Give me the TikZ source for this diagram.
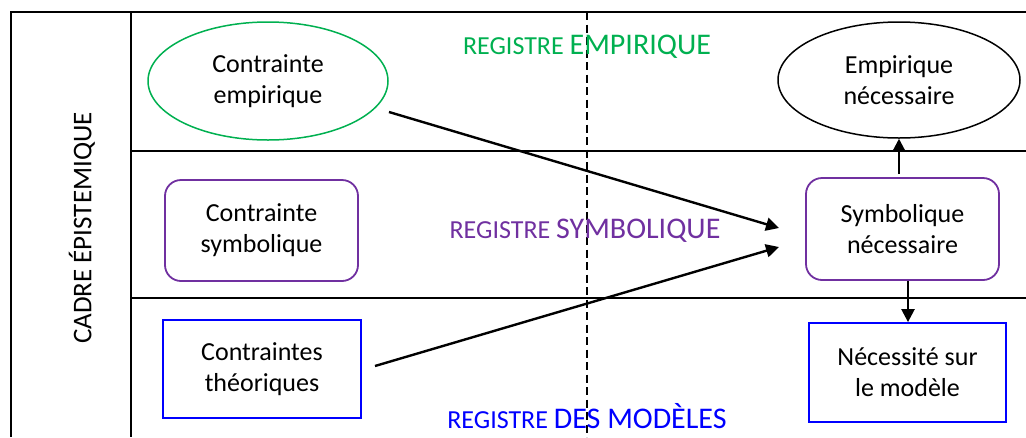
\documentclass[tikz,border=0pt]{standalone}
\usepackage{fontspec}
\setmainfont{Carlito}
\usetikzlibrary{arrows.meta,shapes.geometric}
\definecolor{offgreen}{RGB}{0,176,80}
\definecolor{offpurple}{RGB}{112,48,160}
\definecolor{offblue}{RGB}{0,0,255}
\tikzset{
  frameline/.style={line width=1.6pt, black},
  txt/.style={align=center, font=\fontsize{26}{31}\selectfont, inner sep=0pt},
  ell/.style={ellipse, draw, line width=1.5pt, txt},
  rbox/.style={rectangle, rounded corners=16pt, draw=offpurple, line width=1.8pt, txt},
  bbox/.style={rectangle, draw=offblue, line width=1.8pt, txt},
  conn/.style={line width=2.4pt, -{Triangle[length=13pt,width=13pt]}},
  reglab/.style={inner sep=0pt, anchor=base},
}
\newcommand{\regsmall}{\fontsize{26}{30}\selectfont}
\newcommand{\regbig}{\fontsize{30}{34}\selectfont}
\begin{document}
\begin{tikzpicture}[x=1pt,y=-1pt]
\useasboundingbox (0,0) rectangle (1026,437);
% frame
\draw[frameline] (11,437) -- (11,12) -- (1026,12);
\draw[frameline] (131,12) -- (131,437);
\draw[frameline] (131,151) -- (1026,151);
\draw[frameline] (131,298) -- (1026,298);
\draw[line width=2pt, dash pattern=on 8pt off 4.5pt] (587,12) -- (587,437);
% left label
\node[rotate=90, inner sep=0pt, font=\fontsize{27}{32}\selectfont] (cadre) at (82,228) {CADRE ÉPISTEMIQUE};
% register labels
\node[reglab, text=offgreen] (rE) at (587,54) {{\regsmall REGISTRE }{\regbig EMPIRIQUE}};
\node[reglab, text=offpurple] (rS) at (585,238) {{\regsmall REGISTRE }{\regbig SYMBOLIQUE}};
\node[reglab, text=offblue] (rM) at (587,428) {{\regsmall REGISTRE }{\regbig DES MODÈLES}};
% nodes
\node[ell, draw=offgreen, minimum width=240pt, minimum height=118pt] (ce) at (268,81) {Contrainte\\empirique};
\node[rbox, minimum width=193pt, minimum height=101pt] (cs) at (261.5,230.5) {Contrainte\\symbolique};
\node[bbox, minimum width=198pt, minimum height=98pt] (ct) at (262,369) {Contraintes\\théoriques};
\node[ell, draw=black, minimum width=242pt, minimum height=116pt] (en) at (899,80) {Empirique\\nécessaire};
\node[rbox, minimum width=193pt, minimum height=102pt] (sn) at (902.5,229) {Symbolique\\nécessaire};
\node[bbox, minimum width=197pt, minimum height=99pt] (nm) at (907.5,372.5) {Nécessité sur\\le modèle};
% connectors
\coordinate (a1s) at (389,112);
\coordinate (a1e) at (779,228);
\coordinate (a2s) at (375,366);
\coordinate (a2e) at (779,247);
\draw[conn] (a1s) -- (a1e);
\draw[conn] (a2s) -- (a2e);
\draw[conn] (sn.north -| en.south) ++(0,-3) -- (en.south);
\draw[conn] (sn.south -| 908,0) -- (nm.north -| 908,0);
\end{tikzpicture}
\end{document}
